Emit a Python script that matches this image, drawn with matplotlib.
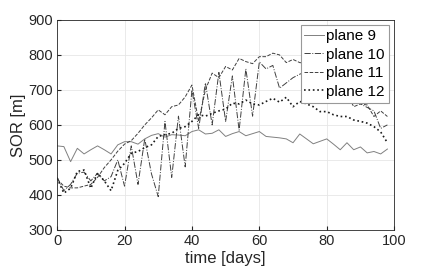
import matplotlib
matplotlib.use("Agg")
import matplotlib.pyplot as plt
import numpy as np

plt.rcParams["font.family"] = ["Liberation Sans", "DejaVu Sans"]

# sampling days (every 2 days)
days = np.arange(0, 100, 2)

# SOR values
plane9 = [540, 538, 495, 533, 517, 529, 540, 529, 517, 543,
          552, 552, 545, 560, 570, 575, 565, 572, 571, 569,
          581, 586, 574, 576, 586, 567, 575, 581, 569, 575,
          581, 567, 565, 563, 560, 549, 574, 560, 546, 553,
          560, 545, 529, 549, 529, 537, 520, 524, 517, 531]
plane10 = [450, 412, 430, 462, 465, 440, 462, 440, 452, 500,
           425, 540, 430, 560, 460, 395, 610, 450, 625, 480,
           700, 590, 720, 600, 750, 610, 740, 585, 760, 625,
           780, 760, 770, 705, 720, 735, 745, 752, 755, 760,
           755, 740, 720, 700, 690, 660, 650, 640, 590, 600]
plane11 = [445, 425, 420, 420, 425, 430, 450, 478, 500, 525,
           545, 555, 576, 600, 620, 643, 629, 652, 657, 680,
           714, 610, 700, 748, 735, 767, 757, 790, 781, 775,
           795, 795, 805, 800, 778, 787, 778, 776, 770, 765,
           760, 740, 720, 690, 652, 660, 657, 624, 640, 624]
plane12 = [448, 405, 419, 467, 471, 419, 462, 440, 412, 470,
           490, 519, 524, 535, 543, 567, 572, 576, 590, 595,
           610, 629, 625, 633, 640, 645, 662, 660, 671, 660,
           657, 667, 676, 665, 679, 652, 667, 660, 652, 638,
           638, 629, 624, 624, 614, 610, 605, 595, 580, 549]

fig = plt.figure(figsize=(4.36, 2.73), dpi=100)
ax = fig.add_axes([0.131, 0.158, 0.773, 0.769])

ax.plot(days, plane9, color="0.5", linestyle="-", linewidth=0.7, label="plane 9")
ax.plot(days, plane10, color="0.25", linestyle="-.", linewidth=0.7, label="plane 10")
ax.plot(days, plane11, color="0.25", linestyle="--", linewidth=0.7, label="plane 11")
ax.plot(days, plane12, color="0.1", linestyle=":", linewidth=1.2, label="plane 12")

ax.set_xlim(0, 100)
ax.set_ylim(300, 900)
ax.set_xticks(np.arange(0, 101, 20))
ax.set_yticks(np.arange(300, 901, 100))
ax.grid(True, color="0.9", linewidth=0.6)
ax.set_axisbelow(True)
ax.tick_params(direction="in", length=3, labelsize=10.5, colors="0.15", pad=3)
for sp in ax.spines.values():
    sp.set_color("0.15")
    sp.set_linewidth(0.6)

ax.set_xlabel("time [days]", fontsize=12, color="0.15", labelpad=2)
ax.set_ylabel("SOR [m]", fontsize=12, color="0.15", labelpad=2)

leg = ax.legend(loc="upper right", fontsize=11, handlelength=1.3,
                handletextpad=0.15, borderpad=0.25, labelspacing=0.3,
                borderaxespad=0.35, fancybox=False, framealpha=1)
leg.get_frame().set_edgecolor("0.6")
leg.get_frame().set_linewidth(0.8)

fig.savefig("out.png", dpi=100)
